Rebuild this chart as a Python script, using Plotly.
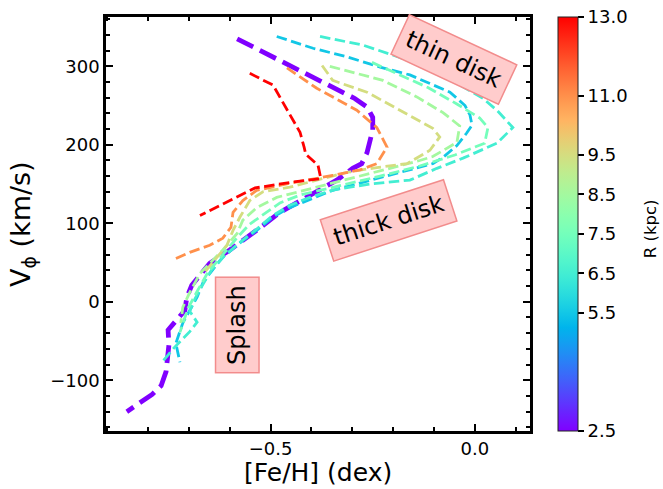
import numpy as np
import plotly.graph_objects as go
from plotly.colors import sample_colorscale

# ---------------- data ----------------
R_MIN, R_MAX = 2.5, 13.0

# R = 2.5 kpc (thick purple)
fe_R2p5 = [-0.582, -0.294, -0.264, -0.250, -0.250, -0.264, -0.277, -0.299, -0.338, -0.387,
           -0.428, -0.477, -0.519, -0.558, -0.600, -0.649, -0.675, -0.693, -0.705, -0.710,
           -0.751, -0.749, -0.756, -0.768, -0.790, -0.852]
vphi_R2p5 = [335, 259, 248, 235, 219, 190, 176, 170, 155, 140,
             129, 114, 97, 82, 66, 49, 33, 21, 6, -11,
             -36, -55, -89, -107, -118, -140]

# R = 5.5 kpc
fe_R5p5 = [-0.485, -0.396, -0.313, -0.232, -0.159, -0.103, -0.061, -0.024, -0.012, -0.007,
           -0.020, -0.044, -0.078, -0.103, -0.191, -0.274, -0.348, -0.396, -0.453, -0.494,
           -0.534, -0.568, -0.617, -0.649, -0.666, -0.680, -0.698, -0.715, -0.732, -0.722]
vphi_R5p5 = [338, 323, 312, 299, 289, 276, 267, 250, 238, 225,
             215, 199, 184, 176, 164, 152, 142, 132, 120, 108,
             91, 78, 57, 36, 24, 6, -11, -27, -53, -77]

# R = 6.5 kpc
fe_R6p5 = [-0.379, -0.274, -0.176, -0.078, 0.020, 0.054, 0.093, 0.054, -0.029, -0.093,
           -0.159, -0.257, -0.343, -0.404, -0.453, -0.497, -0.531, -0.570, -0.614, -0.644,
           -0.666, -0.685, -0.698, -0.680, -0.698, -0.737, -0.766]
vphi_R6p5 = [338, 327, 310, 289, 259, 244, 222, 202, 183, 170,
             155, 150, 143, 133, 123, 109, 94, 78, 58, 41,
             22, 4, -12, -26, -38, -59, -77]

# R = 7.5 kpc
fe_R7p5 = [-0.252, -0.115, -0.044, 0.012, 0.032, 0.024, -0.049, -0.135, -0.232, -0.330,
           -0.428, -0.477, -0.514, -0.551, -0.580, -0.619, -0.653, -0.678, -0.702, -0.722]
vphi_R7p5 = [305, 273, 252, 234, 222, 202, 187, 173, 160, 148,
             136, 126, 113, 99, 83, 59, 38, 15, -8, -39]

# R = 8.5 kpc
fe_R8p5 = [-0.355, -0.225, -0.142, -0.078, -0.037, -0.044, -0.103, -0.135, -0.208, -0.289,
           -0.355, -0.421, -0.485, -0.534, -0.568, -0.582, -0.617, -0.649, -0.673, -0.698,
           -0.715, -0.720]
vphi_R8p5 = [300, 282, 261, 241, 224, 203, 185, 180, 170, 159,
             151, 142, 133, 120, 104, 87, 66, 49, 36, 12,
             -7, -27]

# R = 9.5 kpc
fe_R9p5 = [-0.374, -0.348, -0.264, -0.184, -0.103, -0.086, -0.110, -0.166, -0.240, -0.313,
           -0.372, -0.453, -0.519, -0.551, -0.575, -0.592, -0.607, -0.636, -0.661]
vphi_R9p5 = [301, 282, 267, 244, 221, 210, 193, 176, 171, 165,
             157, 146, 140, 129, 108, 91, 72, 53, 38]

# R = 11.0 kpc
fe_R11 = [-0.460, -0.387, -0.289, -0.240, -0.215, -0.240, -0.281, -0.348, -0.453, -0.534,
          -0.568, -0.592, -0.597, -0.617, -0.649, -0.698, -0.732]
vphi_R11 = [298, 272, 244, 222, 197, 176, 168, 161, 151, 142,
            129, 114, 95, 81, 72, 63, 55]

# R = 13.0 kpc
fe_R13 = [-0.551, -0.494, -0.470, -0.428, -0.418, -0.414, -0.384, -0.377, -0.453, -0.538, -0.673]
vphi_R13 = [291, 276, 254, 216, 197, 188, 174, 157, 152, 145, 110]

R_values = [2.5, 5.5, 6.5, 7.5, 8.5, 9.5, 11.0, 13.0]

x_tickvals = [-0.5, 0.0]
x_ticktext = ["\u22120.5", "0.0"]
y_tickvals = [-100, 0, 100, 200, 300]
y_ticktext = ["\u2212100", "0", "100", "200", "300"]
cb_tickvals = [2.5, 5.5, 6.5, 7.5, 8.5, 9.5, 11.0, 13.0]
cb_ticktext = ["2.5", "5.5", "6.5", "7.5", "8.5", "9.5", "11.0", "13.0"]

# ---------------- colormap (matplotlib 'rainbow') ----------------
def rainbow(t):
    r = min(max(abs(2 * t - 0.5), 0.0), 1.0)
    g = min(max(np.sin(np.pi * t), 0.0), 1.0)
    b = min(max(np.cos(np.pi * t / 2), 0.0), 1.0)
    return f"rgb({round(r*255)},{round(g*255)},{round(b*255)})"

colorscale = [[float(t), rainbow(t)] for t in np.linspace(0, 1, 65)]

FONT = "DejaVu Sans"

series = [
    (fe_R2p5, vphi_R2p5, 4.8, "18px,7.5px"),
    (fe_R5p5, vphi_R5p5, 2.8, "10.5px,4.5px"),
    (fe_R6p5, vphi_R6p5, 2.8, "10.5px,4.5px"),
    (fe_R7p5, vphi_R7p5, 2.8, "10.5px,4.5px"),
    (fe_R8p5, vphi_R8p5, 2.8, "10.5px,4.5px"),
    (fe_R9p5, vphi_R9p5, 2.8, "10.5px,4.5px"),
    (fe_R11, vphi_R11, 2.8, "10.5px,4.5px"),
    (fe_R13, vphi_R13, 2.8, "10.5px,4.5px"),
]

fig = go.Figure()
for R, (fe, vp, w, dash) in zip(R_values, series):
    col = sample_colorscale(colorscale, [(R - R_MIN) / (R_MAX - R_MIN)])[0]
    fig.add_trace(go.Scatter(x=fe, y=vp, mode="lines",
                             line=dict(color=col, width=w, dash=dash),
                             showlegend=False, hoverinfo="skip"))

# colorbar carrier
fig.add_trace(go.Scatter(
    x=[None], y=[None], mode="markers", showlegend=False, hoverinfo="skip",
    marker=dict(color=[R_MIN], cmin=R_MIN, cmax=R_MAX, colorscale=colorscale,
                showscale=True,
                colorbar=dict(thickness=20, thicknessmode="pixels",
                              len=1, lenmode="fraction",
                              x=1.066, xanchor="left", xpad=0,
                              y=0.5, yanchor="middle", ypad=0,
                              outlinewidth=1, outlinecolor="#222",
                              tickmode="array", tickvals=cb_tickvals, ticktext=cb_ticktext,
                              ticks="outside", ticklen=6, tickwidth=1.5, tickcolor="black",
                              tickfont=dict(size=18, family=FONT, color="black")))))

axis_common = dict(showline=True, linewidth=2.5, linecolor="black", mirror="allticks",
                   ticks="inside", ticklen=7, tickwidth=2, tickcolor="black",
                   showgrid=False, zeroline=False, tickmode="array",
                   tickfont=dict(size=18, family=FONT, color="black"))

fig.update_xaxes(range=[-0.903, 0.135], tickvals=x_tickvals, ticktext=x_ticktext,
                 minor=dict(ticks="inside", ticklen=4, tickwidth=2, tickcolor="black",
                            dtick=0.1, tick0=0, showgrid=False),
                 **axis_common)
fig.update_yaxes(range=[-164.6, 362.8], tickvals=y_tickvals, ticktext=y_ticktext,
                 minor=dict(ticks="inside", ticklen=4, tickwidth=2, tickcolor="black",
                            dtick=20, tick0=0, showgrid=False),
                 **axis_common)

box = dict(bgcolor="#ffcccc", bordercolor="#f28c8c", borderwidth=1.5, borderpad=7,
           font=dict(size=24, family=FONT, color="black"), showarrow=False)

annotations = [
    dict(x=-0.051, y=309, xref="x", yref="y", text="thin disk", textangle=25, **box),
    dict(x=-0.212, y=104, xref="x", yref="y", text="thick disk", textangle=-18, **box),
    dict(x=-0.582, y=-30, xref="x", yref="y", text="Splash", textangle=-90, **box),
    dict(x=0.5, y=-0.100, xref="paper", yref="paper", text="[Fe/H] (dex)", showarrow=False,
         xanchor="center", yanchor="middle", font=dict(size=25, family=FONT, color="black")),
    dict(x=-0.198, y=0.5, xref="paper", yref="paper", text="V<sub>\u03d5</sub> (km/s)",
         showarrow=False, textangle=-90, xanchor="center", yanchor="middle",
         font=dict(size=27, family=FONT, color="black")),
    dict(x=1.283, y=0.49, xref="paper", yref="paper", text="R (kpc)", showarrow=False,
         textangle=-90, xanchor="center", yanchor="middle",
         font=dict(size=16.5, family=FONT, color="black")),
]

fig.update_layout(width=663, height=489, margin=dict(l=106, r=133, t=17, b=58),
                  paper_bgcolor="white", plot_bgcolor="white",
                  annotations=annotations, font=dict(family=FONT, color="black"))

fig.write_html("out.html")
